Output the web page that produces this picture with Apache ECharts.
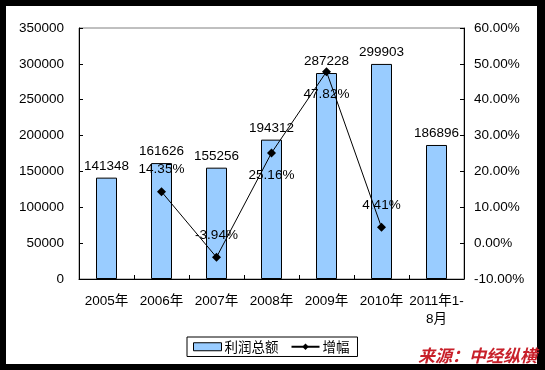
<!DOCTYPE html>
<html>
<head>
<meta charset="utf-8">
<script src="https://cdn.jsdelivr.net/npm/echarts@6/dist/echarts.min.js"></script>
<style>
html,body{margin:0;padding:0;background:#fff;}
#c{width:545px;height:370px;}
</style>
</head>
<body>
<div id="c"></div>
<script>
var categories = ['2005年','2006年','2007年','2008年','2009年','2010年','2011年1-\n8月'];
var profitValues = [141348,161626,155256,194312,287228,299903,186896];
var growthValues = [null,14.35,-3.94,25.16,47.82,4.41,null];
var growthLabelPos = [null,'top','top','bottom','bottom','top',null];
var leftTicks = [0,350000,50000];
var rightTicks = [-10,60,10];
var seriesNames = ['利润总额','增幅'];

var numFont = 'Arial, "Liberation Sans", "Noto Sans CJK SC", sans-serif';
var chart = echarts.init(document.getElementById('c'), null, {renderer:'canvas'});

var lineData = growthValues.map(function(v,i){
  if (v === null) return null;
  return {value:v, label:{position:growthLabelPos[i]}};
});

var option = {
  backgroundColor:'#ffffff',
  animation:false,
  grid:{left:79, right:81, top:28, bottom:91, show:true, borderColor:'#808080', borderWidth:1, backgroundColor:'transparent'},
  legend:{
    left:187, top:337,
    padding:[3,8,3,6],
    borderColor:'#000', borderWidth:1,
    itemWidth:28, itemHeight:8, itemGap:12,
    textStyle:{fontFamily:'"Noto Sans CJK SC", sans-serif', fontSize:13.5, color:'#000', padding:[0,0,0,-2]},
    data:[
      {name:seriesNames[0], icon:'rect', itemStyle:{color:'#99CCFF', borderColor:'#000', borderWidth:1}},
      {name:seriesNames[1]}
    ]
  },
  xAxis:{
    type:'category', data:categories,
    axisLine:{lineStyle:{color:'#000', width:1}},
    axisTick:{show:true, inside:true, length:4, lineStyle:{color:'#000'}},
    axisLabel:{margin:13, fontFamily:numFont, fontSize:13.5, color:'#000', lineHeight:18, interval:0}
  },
  yAxis:[
    {type:'value', min:leftTicks[0], max:leftTicks[1], interval:leftTicks[2],
     axisLine:{show:true, lineStyle:{color:'#000'}},
     axisTick:{show:true, inside:true, length:4, lineStyle:{color:'#000'}},
     splitLine:{show:false},
     axisLabel:{margin:15, fontFamily:numFont, fontSize:13.5, color:'#000',
       formatter:function(v){return String(v);}}},
    {type:'value', min:rightTicks[0], max:rightTicks[1], interval:rightTicks[2], position:'right',
     axisLine:{show:true, lineStyle:{color:'#000'}},
     axisTick:{show:true, inside:true, length:4, lineStyle:{color:'#000'}},
     splitLine:{show:false},
     axisLabel:{margin:10, fontFamily:numFont, fontSize:13.5, color:'#000',
       formatter:function(v){return v.toFixed(2)+'%';}}}
  ],
  series:[
    {name:seriesNames[0], type:'bar', yAxisIndex:0, data:profitValues, barWidth:21,
     itemStyle:{color:'#99CCFF', borderColor:'#000', borderWidth:1},
     label:{show:true, position:'top', distance:5, fontFamily:numFont, fontSize:13.5, color:'#000'}},
    {name:seriesNames[1], type:'line', yAxisIndex:1, data:lineData, connectNulls:false,
     symbol:'diamond', symbolSize:9, showAllSymbol:true,
     lineStyle:{color:'#000', width:1}, itemStyle:{color:'#000'},
     label:{show:true, distance:11, fontFamily:numFont, fontSize:13.5, color:'#000',
       formatter:function(p){return p.value.toFixed(2)+'%';}}, z:5}
  ],
  graphic:[
    {type:'rect', shape:{x:0,y:0,width:545,height:6}, style:{fill:'#000'}, z:100},
    {type:'rect', shape:{x:0,y:0,width:6,height:370}, style:{fill:'#000'}, z:100},
    {type:'rect', shape:{x:537,y:0,width:8,height:370}, style:{fill:'#000'}, z:100},
    {type:'rect', shape:{x:0,y:364,width:545,height:6}, style:{fill:'#000'}, z:100},
    {type:'text', right:8, top:347, z:101,
     style:{text:'来源：中经纵横', fill:'#c8202a', font:'italic bold 17px "Noto Sans CJK SC", sans-serif'}}
  ]
};
chart.setOption(option);
</script>
</body>
</html>
